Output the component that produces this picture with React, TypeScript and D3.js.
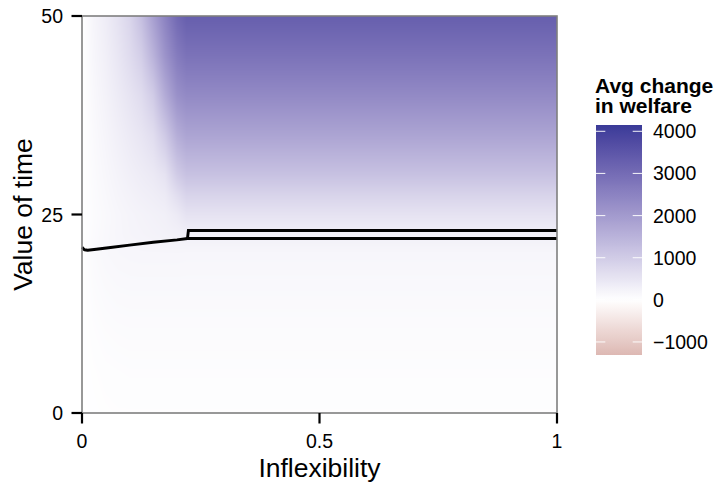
import React, { useMemo } from "react";
import * as d3 from "d3";

// Grid of the welfare surface: rows follow valueOfTime, columns follow inflexibility
const inflexibility = [0, 0.025, 0.05, 0.075, 0.1, 0.125, 0.15, 0.175, 0.2, 0.22, 1];
const valueOfTime = [0, 5, 10, 15, 20, 22.5, 25, 27.5, 30, 35, 40, 45, 50];
const welfare = [
  [5, 15, 25, 30, 30, 30, 30, 30, 30, 30, 30],
  [5, 25, 40, 45, 50, 50, 50, 50, 50, 50, 50],
  [5, 45, 65, 75, 80, 80, 80, 80, 80, 80, 80],
  [8, 70, 100, 115, 120, 120, 120, 120, 120, 120, 120],
  [10, 100, 140, 160, 170, 175, 175, 175, 175, 170, 170],
  [5, 80, 130, 170, 200, 220, 240, 260, 280, 300, 300],
  [0, 70, 120, 170, 210, 240, 270, 300, 400, 550, 550],
  [0, 80, 140, 200, 250, 300, 340, 400, 650, 850, 850],
  [0, 90, 160, 230, 300, 360, 420, 550, 1000, 1200, 1200],
  [0, 110, 200, 300, 400, 500, 650, 1050, 1600, 1800, 1800],
  [0, 140, 250, 380, 520, 680, 1000, 1650, 2200, 2350, 2350],
  [0, 170, 300, 470, 680, 950, 1500, 2150, 2650, 2850, 2850],
  [0, 200, 350, 550, 800, 1250, 1900, 2500, 3050, 3300, 3300],
];

// Break-even contour (inflexibility, value of time)
const contourLower: [number, number][] = [
  [0, 20.87], [0.005, 20.56], [0.012, 20.5], [0.03, 20.62], [0.06, 20.85],
  [0.1, 21.15], [0.15, 21.5], [0.2, 21.8], [0.222, 21.97], [1, 21.97],
];
const contourUpper: [number, number][] = [
  [0.222, 21.97], [0.224, 22.98], [1, 22.98],
];

const xTicks = [0, 0.5, 1];
const xTickLabels = ["0", "0.5", "1"];
const yTicks = [0, 25, 50];
const legendBreaks = [-1000, 0, 1000, 2000, 3000, 4000];
const legendLimits = [-1310, 4150];

const W = 719;
const H = 482;
const panel = { left: 82, right: 557, top: 16, bottom: 413 };
const FONT = "'Liberation Sans', Arial, Helvetica, sans-serif";

const x = d3.scaleLinear().domain([0, 1]).range([panel.left, panel.right]);
const y = d3.scaleLinear().domain([0, 50]).range([panel.bottom, panel.top]);

// Diverging fill: white at zero, muted red below, muted blue above (Lab)
const maxAbs = Math.max(Math.abs(legendLimits[0]), Math.abs(legendLimits[1]));
const hiPal = d3.interpolateLab("#ffffff", "#3A3A98");
const loPal = d3.interpolateLab("#ffffff", "#832424");
function fill(v: number): string {
  const t = Math.min(1, Math.abs(v) / maxAbs);
  return v >= 0 ? hiPal(t) : loPal(t);
}

function locate(arr: number[], v: number): [number, number] {
  let i = d3.bisectRight(arr, v) - 1;
  i = Math.max(0, Math.min(arr.length - 2, i));
  const t = (v - arr[i]) / (arr[i + 1] - arr[i]);
  return [i, Math.max(0, Math.min(1, t))];
}

// Smoothly interpolated raster of the grid
function sample(xv: number, yv: number): number {
  const [j, tx] = locate(inflexibility, xv);
  const [i, ty] = locate(valueOfTime, yv);
  const a = welfare[i][j] * (1 - tx) + welfare[i][j + 1] * tx;
  const b = welfare[i + 1][j] * (1 - tx) + welfare[i + 1][j + 1] * tx;
  return a * (1 - ty) + b * ty;
}

function useRaster(): string {
  return useMemo(() => {
    const pw = panel.right - panel.left;
    const ph = panel.bottom - panel.top;
    const canvas = document.createElement("canvas");
    canvas.width = pw;
    canvas.height = ph;
    const ctx = canvas.getContext("2d");
    if (!ctx) return "";
    const img = ctx.createImageData(pw, ph);
    for (let py = 0; py < ph; py++) {
      const yv = y.invert(panel.top + py + 0.5);
      for (let px = 0; px < pw; px++) {
        const xv = x.invert(panel.left + px + 0.5);
        const c = d3.rgb(fill(sample(xv, yv)));
        const k = (py * pw + px) * 4;
        img.data[k] = c.r;
        img.data[k + 1] = c.g;
        img.data[k + 2] = c.b;
        img.data[k + 3] = 255;
      }
    }
    ctx.putImageData(img, 0, 0);
    return canvas.toDataURL();
  }, []);
}

const legend = { left: 596, right: 642, top: 125, bottom: 355 };
const ly = d3.scaleLinear().domain(legendLimits).range([legend.bottom, legend.top]);

export default function App() {
  const raster = useRaster();
  const line = d3
    .line<[number, number]>()
    .x((d) => x(d[0]))
    .y((d) => y(d[1]));

  const stops = d3.range(0, 61).map((k) => {
    const v = legendLimits[1] - (k / 60) * (legendLimits[1] - legendLimits[0]);
    return { offset: `${(k / 60) * 100}%`, color: fill(v) };
  });

  return (
    <svg
      width={W}
      height={H}
      style={{ position: "absolute", left: 0, top: 0, background: "#fff" }}
      fontFamily={FONT}
    >
      <defs>
        <linearGradient id="welfareBar" x1="0" y1="0" x2="0" y2="1">
          {stops.map((s, i) => (
            <stop key={i} offset={s.offset} stopColor={s.color} />
          ))}
        </linearGradient>
      </defs>

      {raster && (
        <image
          href={raster}
          x={panel.left}
          y={panel.top}
          width={panel.right - panel.left}
          height={panel.bottom - panel.top}
          preserveAspectRatio="none"
        />
      )}

      <path d={line(contourLower) || ""} fill="none" stroke="#000" strokeWidth={2.9} strokeLinejoin="round" />
      <path d={line(contourUpper) || ""} fill="none" stroke="#000" strokeWidth={2.9} strokeLinejoin="miter" />

      <rect
        x={panel.left}
        y={panel.top}
        width={panel.right - panel.left}
        height={panel.bottom - panel.top}
        fill="none"
        stroke="#7f7f7f"
        strokeWidth={1.6}
      />

      {/* y axis */}
      {yTicks.map((t) => (
        <g key={`y${t}`}>
          <line x1={panel.left - 10.5} x2={panel.left} y1={y(t)} y2={y(t)} stroke="#000" strokeWidth={2.2} />
          <text x={63} y={y(t)} dy="0.36em" textAnchor="end" fontSize={19.5} fill="#000">
            {t}
          </text>
        </g>
      ))}
      {/* x axis */}
      {xTicks.map((t, i) => (
        <g key={`x${t}`}>
          <line x1={x(t)} x2={x(t)} y1={panel.bottom} y2={panel.bottom + 10.5} stroke="#000" strokeWidth={2.2} />
          <text x={x(t)} y={448} textAnchor="middle" fontSize={19.5} fill="#000">
            {xTickLabels[i]}
          </text>
        </g>
      ))}

      <text x={(panel.left + panel.right) / 2} y={477} textAnchor="middle" fontSize={26.5} fill="#000">
        Inflexibility
      </text>
      <text
        transform={`translate(31.5, ${(panel.top + panel.bottom) / 2}) rotate(-90)`}
        textAnchor="middle"
        fontSize={26.5}
        fill="#000"
      >
        Value of time
      </text>

      {/* legend */}
      <text x={595} y={92.5} fontSize={21} fontWeight="bold" fill="#000">
        Avg change
      </text>
      <text x={595} y={113.2} fontSize={21} fontWeight="bold" fill="#000">
        in welfare
      </text>
      <rect
        x={legend.left}
        y={legend.top}
        width={legend.right - legend.left}
        height={legend.bottom - legend.top}
        fill="url(#welfareBar)"
      />
      {legendBreaks.map((b) => (
        <g key={`l${b}`}>
          <line x1={legend.left} x2={legend.left + 9.3} y1={ly(b)} y2={ly(b)} stroke="#fff" strokeOpacity={0.85} strokeWidth={1.1} />
          <line x1={legend.right - 9.3} x2={legend.right} y1={ly(b)} y2={ly(b)} stroke="#fff" strokeOpacity={0.85} strokeWidth={1.1} />
          <text x={653} y={ly(b)} dy="0.36em" fontSize={19.5} fill="#000">
            {b < 0 ? `\u2212${Math.abs(b)}` : b}
          </text>
        </g>
      ))}
    </svg>
  );
}
